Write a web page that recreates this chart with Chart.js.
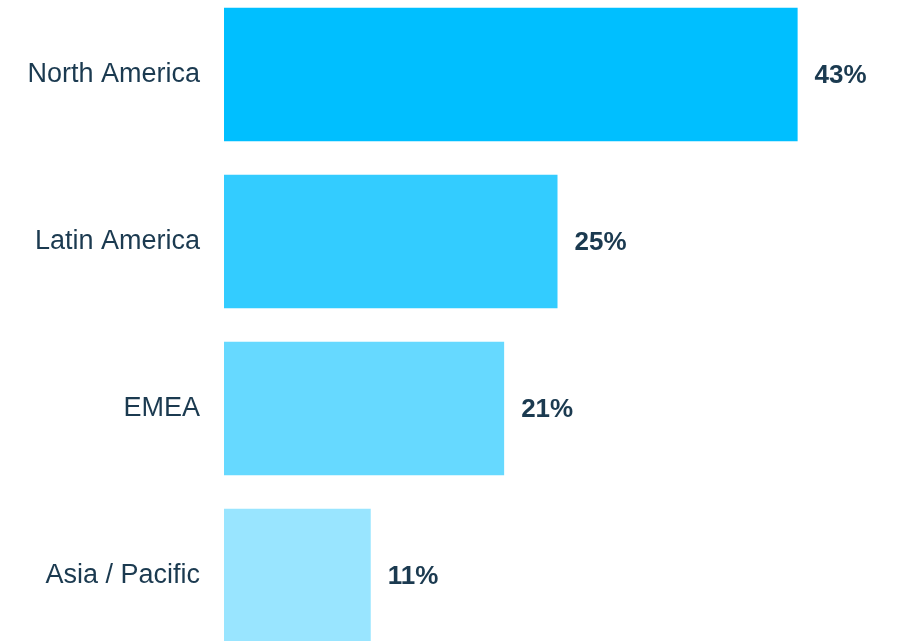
<!DOCTYPE html>
<html>
<head>
<meta charset="utf-8">
<script src="https://cdn.jsdelivr.net/npm/chart.js@4/dist/chart.umd.min.js"></script>
<style>
  html, body { margin: 0; padding: 0; background: #fff; overflow: hidden; }
  #wrap { position: absolute; left: 0; top: -9px; width: 899px; height: 668px; }
</style>
</head>
<body>
<div id="wrap"><canvas id="BarChart"></canvas></div>
<script>
const regions = ['North America', 'Latin America', 'EMEA', 'Asia / Pacific'];
const shares = [43, 25, 21, 11];
const barColors = ['#00BFFF', '#33CCFF', '#66D9FF', '#99E5FF'];

const textColor = '#1B3A50';

// writes the percentage just right of each bar
const valueLabels = {
    id: 'valueLabels',
    afterDatasetsDraw(chart) {
        const c = chart.ctx;
        const meta = chart.getDatasetMeta(0);
        c.save();
        c.font = 'bold 26px "Liberation Sans", Arial, sans-serif';
        c.fillStyle = textColor;
        c.textAlign = 'left';
        c.textBaseline = 'middle';
        meta.data.forEach((bar, i) => {
            c.fillText(shares[i] + '%', bar.x + 17, bar.y + 1);
        });
        c.restore();
    }
};

const ctx = document.getElementById('BarChart').getContext('2d');
const barChart = new Chart(ctx, {
    type: 'bar',
    data: {
        labels: regions,
        datasets: [{
            data: shares,
            backgroundColor: barColors,
            borderWidth: 0,
            barPercentage: 0.8,
            categoryPercentage: 1
        }]
    },
    options: {
        indexAxis: 'y',
        responsive: true,
        maintainAspectRatio: false,
        animation: false,
        layout: { padding: { top: 0, bottom: 0, left: 0, right: 8 } },
        plugins: {
            legend: { display: false },
            tooltip: { enabled: false }
        },
        scales: {
            x: {
                display: false,
                min: 0,
                max: 50
            },
            y: {
                grid: { display: false },
                border: { display: false },
                ticks: {
                    color: textColor,
                    padding: 16,
                    font: { family: '"Liberation Sans", Arial, sans-serif', size: 27 }
                },
                afterFit(scale) {
                    scale.width = 224;
                    scale.paddingTop = 0;
                    scale.paddingBottom = 0;
                }
            }
        }
    },
    plugins: [valueLabels]
});
</script>
</body>
</html>
